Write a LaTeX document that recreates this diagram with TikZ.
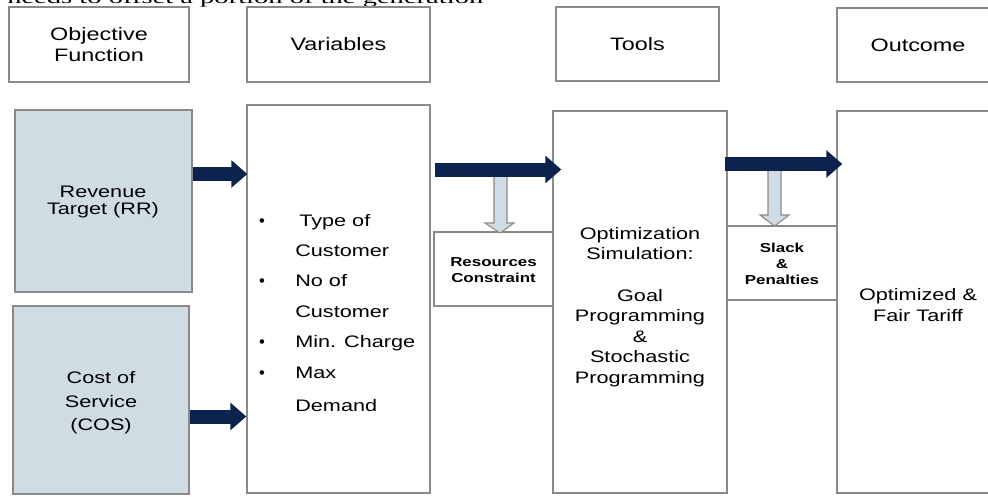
\documentclass[tikz,border=0pt]{standalone}
\usepackage{fontspec}
\setmainfont{Liberation Sans}
\newfontfamily\dfont[FakeStretch=1.3]{Liberation Sans}
\newfontfamily\serifface{Liberation Serif}
\usetikzlibrary{arrows.meta,fit,calc}
\definecolor{navy}{HTML}{0C2350}
\definecolor{paleblue}{HTML}{D0DCE4}
\definecolor{edgegrey}{HTML}{8A8A8A}
\begin{document}
\begin{tikzpicture}[x=0.75pt,y=-0.75pt,
  box/.style={draw=edgegrey, line width=1pt, inner sep=0pt},
  fillbox/.style={box, fill=paleblue},
  hdrtxt/.style={font=\dfont\fontsize{13.5}{15.75}\selectfont, align=center, inner sep=0pt},
  bodytxt/.style={font=\dfont\fontsize{12.5}{15.4}\selectfont, align=center, inner sep=0pt},
  listtxt/.style={font=\dfont\fontsize{12.5}{15}\selectfont, inner sep=0pt, anchor=base west},
  bullettxt/.style={font=\fontsize{12.5}{15}\selectfont, inner sep=0pt, anchor=base},
  smalltxt/.style={font=\dfont\bfseries\fontsize{9.75}{11.5}\selectfont, align=center, inner sep=0pt},
  navyarrow/.style={draw=navy, line width=10.5pt, -{Triangle[length=12pt,width=20pt]}},
  greyarrow/.style={draw=edgegrey, fill=paleblue, line width=0.8pt, line join=miter}
]
\useasboundingbox (0,0) rectangle (988,496);
\clip (0,0) rectangle (988,496);

% cropped line of page text
\node[anchor=base west, inner sep=0pt] (topline) at (7,3.5)
  {\resizebox{357pt}{\height}{\serifface\fontsize{13}{15}\selectfont needs to offset a portion of the generation}};

% header boxes
\node[box, fit={(9,7) (189,82)}] (hobj) {};
\node[hdrtxt] (hobjt) at (hobj.center) {Objective\\Function};
\node[box, fit={(247,7) (430,82)}] (hvar) {};
\node[hdrtxt] (hvart) at (hvar.center) {Variables};
\node[box, fit={(556,7) (719,81)}] (htool) {};
\node[hdrtxt] (htoolt) at (htool.center) {Tools};
\node[box, fit={(837,8) (994,82)}] (hout) {};
\node[hdrtxt] (houtt) at (918,45) {Outcome};

% main boxes
\node[fillbox, fit={(15,110) (192,292)}] (rr) {};
\node[fillbox, fit={(13,306) (189,494)}] (cos) {};
\node[box, fit={(247,105) (430,493)}] (vars) {};
\node[box, fit={(553,111) (727,493)}] (tools) {};
\node[box, fit={(837,111) (994,493)}] (outc) {};
\node[box, fit={(434,232) (553,306)}] (res) {};
\node[box, fit={(727,226) (837,300)}] (slack) {};

% texts
\node[bodytxt, font=\dfont\fontsize{12.5}{12.75}\selectfont] (rrt) at (103,202) {Revenue\\Target (RR)};
\node[bodytxt, font=\dfont\fontsize{12.5}{17.6}\selectfont] (cost) at (101,403) {Cost of\\Service\\(COS)};

\node[bullettxt] (b1) at (262,226.5) {•};
\node[listtxt] (l1) at (299,226.5) {Type of};
\node[listtxt] (l2) at (295,256.5) {Customer};
\node[bullettxt] (b2) at (262,286.5) {•};
\node[listtxt] (l3) at (295,286.5) {No of};
\node[listtxt] (l4) at (295,317) {Customer};
\node[bullettxt] (b3) at (262,347) {•};
\node[listtxt] (l5) at (295,347) {Min. Charge};
\node[bullettxt] (b4) at (262,378) {•};
\node[listtxt] (l6) at (295,378) {Max};
\node[listtxt] (l7) at (295,411) {Demand};

\node[smalltxt] (rest) at (493.5,270) {Resources\\Constraint};
\node[smalltxt, font=\dfont\bfseries\fontsize{9.75}{12}\selectfont] (slackt) at (782,264) {Slack\\\&\\Penalties};
\node[bodytxt] (toolst) at (640,307) {Optimization\\Simulation:\\\mbox{}\\Goal\\Programming\\\&\\Stochastic\\Programming};
\node[bodytxt] (outct) at (918,305) {Optimized \&\\Fair Tariff};

% grey down arrows
\draw[greyarrow] (494,172) -- (494,223) -- (485,223) -- (500,233) -- (514,223) -- (507,223) -- (507,172) -- cycle;
\draw[greyarrow] (768,168) -- (768,215) -- (760,215) -- (774.5,226) -- (789,215) -- (781,215) -- (781,168) -- cycle;

% navy arrows
\coordinate (y1) at (0,174);
\coordinate (y2) at (0,416.5);
\coordinate (y3) at (0,169.5);
\coordinate (y4) at (0,164);
\draw[navyarrow] (rr.east |- y1) -- ($(vars.west |- y1)+(1,0)$);
\draw[navyarrow] (cos.east |- y2) -- ($(vars.west |- y2)+(0,0)$);
\draw[navyarrow] ($(vars.east |- y3)+(4,0)$) -- ($(tools.west |- y3)+(9,0)$);
\draw[navyarrow] ($(tools.east |- y4)+(-3,0)$) -- ($(outc.west |- y4)+(6,0)$);
\end{tikzpicture}
\end{document}
